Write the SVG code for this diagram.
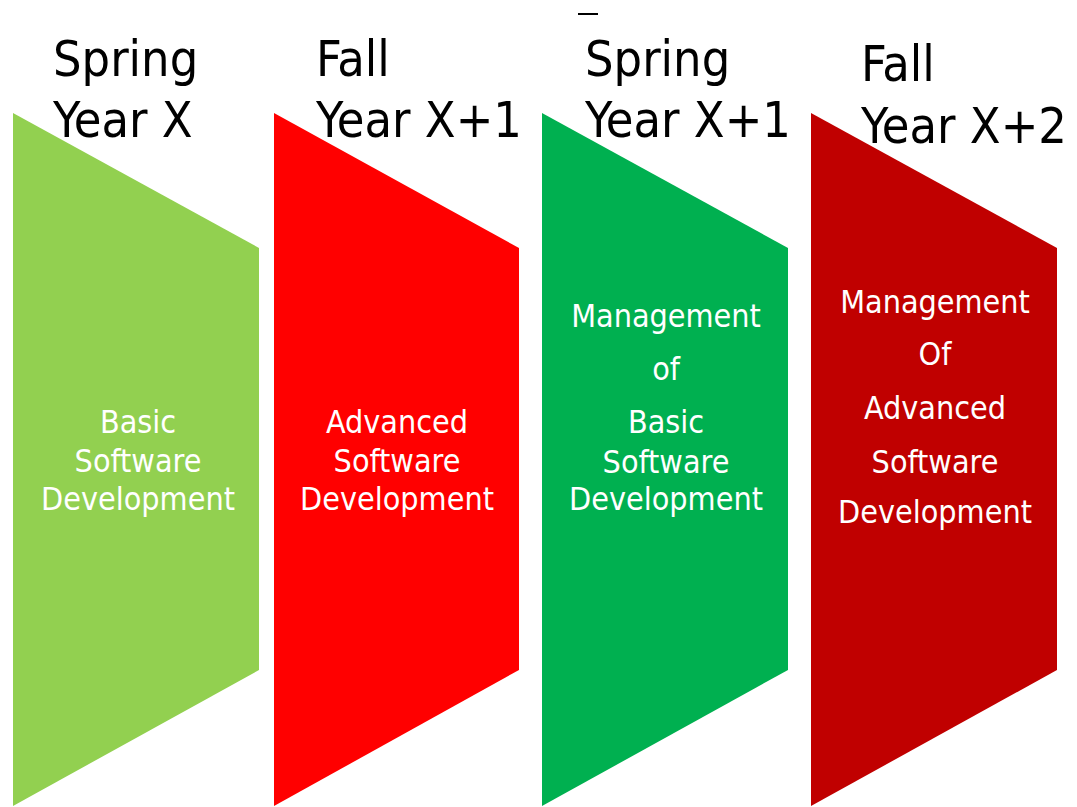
<svg xmlns="http://www.w3.org/2000/svg" width="1077" height="807" viewBox="0 0 1077 807">
<style>
.hd{font-family:"DejaVu Sans Condensed","DejaVu Sans",sans-serif;font-size:50px;fill:#000;}
.in{font-family:"DejaVu Sans Condensed","DejaVu Sans",sans-serif;font-size:32px;fill:#fff;text-anchor:middle;}
</style>
<rect width="1077" height="807" fill="#fff"/>
<rect x="578" y="13" width="20" height="2" fill="#000"/>
<g id="node1">
<polygon points="13,113 259,248 259,670 13,806" fill="#92D050"/>
<text class="hd" x="53" y="76">Spring</text>
<text class="hd" x="53" y="137">Year X</text>
<text class="in" x="138" y="433">Basic</text>
<text class="in" x="138" y="472">Software</text>
<text class="in" x="138" y="510">Development</text>
</g>
<g id="node2">
<polygon points="274,113 519,248 519,670 274,806" fill="#FF0000"/>
<text class="hd" x="316" y="76">Fall</text>
<text class="hd" x="316" y="137">Year X+1</text>
<text class="in" x="397" y="433">Advanced</text>
<text class="in" x="397" y="472">Software</text>
<text class="in" x="397" y="510">Development</text>
</g>
<g id="node3">
<polygon points="542,113 788,248 788,670 542,806" fill="#00B050"/>
<text class="hd" x="585" y="76">Spring</text>
<text class="hd" x="585" y="137">Year X+1</text>
<text class="in" x="666" y="327">Management</text>
<text class="in" x="666" y="380">of</text>
<text class="in" x="666" y="433">Basic</text>
<text class="in" x="666" y="473">Software</text>
<text class="in" x="666" y="510">Development</text>
</g>
<g id="node4">
<polygon points="811,113 1057,248 1057,670 811,806" fill="#C00000"/>
<text class="hd" x="861" y="81">Fall</text>
<text class="hd" x="861" y="143">Year X+2</text>
<text class="in" x="935" y="313">Management</text>
<text class="in" x="935" y="365">Of</text>
<text class="in" x="935" y="419">Advanced</text>
<text class="in" x="935" y="473">Software</text>
<text class="in" x="935" y="523">Development</text>
</g>
<g id="connectors"></g>
</svg>
